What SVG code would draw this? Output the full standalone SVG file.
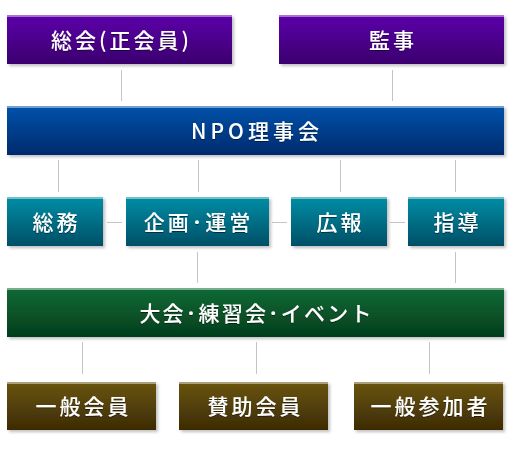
<svg xmlns="http://www.w3.org/2000/svg" width="520" height="449" viewBox="0 0 520 449">
<defs>
<linearGradient id="gP" x1="0" y1="0" x2="0" y2="1"><stop offset="0" stop-color="#5c06aa"/><stop offset="1" stop-color="#3b006e"/></linearGradient>
<linearGradient id="gB" x1="0" y1="0" x2="0" y2="1"><stop offset="0" stop-color="#0452aa"/><stop offset="1" stop-color="#022a6e"/></linearGradient>
<linearGradient id="gT" x1="0" y1="0" x2="0" y2="1"><stop offset="0" stop-color="#028ea6"/><stop offset="1" stop-color="#024f66"/></linearGradient>
<linearGradient id="gG" x1="0" y1="0" x2="0" y2="1"><stop offset="0" stop-color="#0b6a36"/><stop offset="1" stop-color="#053d1c"/></linearGradient>
<linearGradient id="gO" x1="0" y1="0" x2="0" y2="1"><stop offset="0" stop-color="#6a5510"/><stop offset="1" stop-color="#3c2b04"/></linearGradient>
<filter id="sh" x="-5%" y="-10%" width="115%" height="130%"><feDropShadow dx="2" dy="2" stdDeviation="1.5" flood-color="#000" flood-opacity="0.25"/></filter>
<filter id="ts" x="-5%" y="-20%" width="110%" height="140%"><feDropShadow dx="0" dy="1" stdDeviation="0.6" flood-color="#000" flood-opacity="0.5"/></filter>
</defs>
<style>
.box{filter:url(#sh)}
.hl{opacity:0.45;fill:#fff}
.t{font-family:"Noto Sans CJK JP","Noto Sans",sans-serif;font-size:21px;font-weight:500;fill:#fff;text-anchor:middle;letter-spacing:3px;filter:url(#ts)}
.c{stroke:#c4c4c4;stroke-width:1;fill:none}
</style>
<rect width="520" height="449" fill="#fff"/>
<g id="connectors">
<path class="c" d="M121.5 70V101M392.5 70V101M58.5 160V192M198.5 160V192M340.5 160V192M455.5 160V192M107 222.5H122M272 222.5H287M390 222.5H405M197.5 252V283M455.5 252V283M82.5 342V374M256.5 342V374M429.5 342V374"/>
</g>
<g id="n-soukai"><rect class="box" x="7" y="15" width="225" height="49" fill="url(#gP)"/><rect class="hl" x="7" y="15" width="225" height="2"/><text class="t" x="121.5" y="48">総会(正会員)</text></g>
<g id="n-kanji"><rect class="box" x="279" y="15" width="225" height="49" fill="url(#gP)"/><rect class="hl" x="279" y="15" width="225" height="2"/><text class="t" x="393" y="48">監事</text></g>
<g id="n-npo"><rect class="box" x="7" y="106" width="497" height="49" fill="url(#gB)"/><rect class="hl" x="7" y="106" width="497" height="2"/><text class="t" x="257" y="139" style="letter-spacing:4px">NPO理事会</text></g>
<g id="n-soumu"><rect class="box" x="7" y="197" width="96" height="49" fill="url(#gT)"/><rect class="hl" x="7" y="197" width="96" height="2"/><text class="t" x="56.5" y="230">総務</text></g>
<g id="n-kikaku"><rect class="box" x="126" y="197" width="143" height="49" fill="url(#gT)"/><rect class="hl" x="126" y="197" width="143" height="2"/><text class="t" x="198.5" y="230">企画･運営</text></g>
<g id="n-kouhou"><rect class="box" x="291" y="197" width="96" height="49" fill="url(#gT)"/><rect class="hl" x="291" y="197" width="96" height="2"/><text class="t" x="340.5" y="230">広報</text></g>
<g id="n-shidou"><rect class="box" x="408" y="197" width="96" height="49" fill="url(#gT)"/><rect class="hl" x="408" y="197" width="96" height="2"/><text class="t" x="457.5" y="230">指導</text></g>
<g id="n-taikai"><rect class="box" x="7" y="288" width="497" height="49" fill="url(#gG)"/><rect class="hl" x="7" y="288" width="497" height="2"/><text class="t" x="256.5" y="321" style="letter-spacing:2.2px">大会･練習会･イベント</text></g>
<g id="n-ippan"><rect class="box" x="7" y="382" width="149" height="48" fill="url(#gO)"/><rect class="hl" x="7" y="382" width="149" height="2"/><text class="t" x="83.5" y="414">一般会員</text></g>
<g id="n-sanjo"><rect class="box" x="179" y="382" width="149" height="48" fill="url(#gO)"/><rect class="hl" x="179" y="382" width="149" height="2"/><text class="t" x="255.5" y="414">賛助会員</text></g>
<g id="n-sanka"><rect class="box" x="354" y="382" width="149" height="48" fill="url(#gO)"/><rect class="hl" x="354" y="382" width="149" height="2"/><text class="t" x="430.5" y="414">一般参加者</text></g>
</svg>
